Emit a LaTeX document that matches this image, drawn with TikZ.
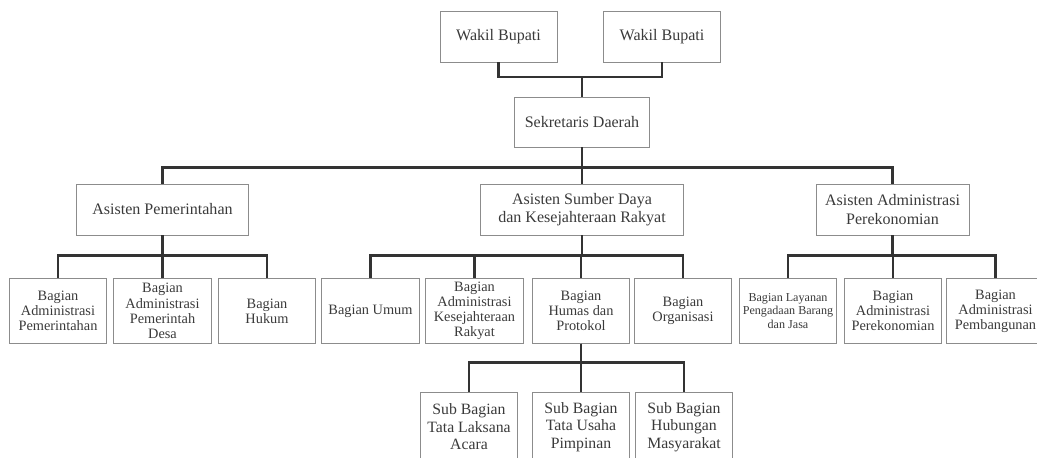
\documentclass[tikz,border=0pt]{standalone}
\usepackage{fontspec}
\setmainfont{Liberation Serif}
\usepackage{xcolor}
\usepackage{tikz}
\definecolor{boxgray}{HTML}{8C8C8C}
\definecolor{linegray}{HTML}{333333}
\definecolor{txtgray}{HTML}{3A3A3A}
\tikzset{
  unit/.style = {draw=boxgray, line width=0.7pt, align=center, inner sep=0pt,
                 text=txtgray, font=\fontsize{11.4}{13}\selectfont},
  top/.style  = {unit, minimum width=2.925cm, minimum height=1.25cm},
  asst/.style = {unit, minimum height=1.275cm},
  part/.style = {unit, minimum width=2.44cm, minimum height=1.6cm,
                 font=\fontsize{10.2}{10.8}\selectfont},
  sub/.style  = {unit, minimum width=2.43cm, minimum height=1.75cm,
                 font=\fontsize{11.2}{12.4}\selectfont},
  conn/.style = {draw=linegray, line width=1.9pt},
}

\begin{document}
\begin{tikzpicture}[x=0.025cm, y=-0.025cm]
    \useasboundingbox (0,0) rectangle (1037,458);

    % pimpinan
    \node (wb1) [top] at (498.5,37) {Wakil Bupati};
    \node (wb2) [top] at (662,37) {Wakil Bupati};
    \node (sek) [unit, minimum width=3.35cm, minimum height=1.225cm] at (582,122.5) {Sekretaris Daerah};

    % asisten
    \node (ap)   [asst, minimum width=4.275cm] at (162.5,209.5) {Asisten Pemerintahan};
    \node (sdkr) [asst, minimum width=5.075cm] at (582,209.5) {Asisten Sumber Daya\\dan Kesejahteraan Rakyat};
    \node (aap)  [asst, minimum width=3.825cm] at (892.5,209.5) {Asisten Administrasi\\Perekonomian};

    % bagian
    \node (b1)    [part] at (58,311)    {Bagian\\Administrasi\\Pemerintahan};
    \node (b2)    [part] at (162.5,311) {Bagian\\Administrasi\\Pemerintah\\Desa};
    \node (b3)    [part] at (267,311)   {Bagian\\Hukum};
    \node (umum)  [part] at (370.5,311) {Bagian Umum};
    \node (akr)   [part] at (474.5,311) {Bagian\\Administrasi\\Kesejahteraan\\Rakyat};
    \node (humas) [part] at (581,311)   {Bagian\\Humas dan\\Protokol};
    \node (org)   [part] at (683,311)   {Bagian\\Organisasi};
    \node (lay)   [part, font=\fontsize{8.6}{9.6}\selectfont] at (788,311) {Bagian Layanan\\Pengadaan Barang\\dan Jasa};
    \node (aper)  [part] at (893,311)   {Bagian\\Administrasi\\Perekonomian};
    \node (apem)  [part] at (995.5,311) {Bagian\\Administrasi\\Pembangunan};

    % sub bagian
    \node (s1) [sub] at (469,427) {Sub Bagian\\Tata Laksana\\Acara};
    \node (s2) [sub] at (581,427) {Sub Bagian\\Tata Usaha\\Pimpinan};
    \node (s3) [sub] at (684,427) {Sub Bagian\\Hubungan\\Masyarakat};

    % garis
    \coordinate (j0) at (sek.north |- 0,77);
    \draw [conn] (wb1.south) |- (j0) -| (wb2.south);
    \draw [conn] (j0) -- (sek.north);

    \foreach \n in {ap,sdkr,aap}
        \draw [conn] (sek.south) -- ++(0,20) -| (\n.north);
    \foreach \n in {b1,b2,b3}
        \draw [conn] (ap.south) -- ++(0,20) -| (\n.north);
    \foreach \n in {umum,akr,humas,org}
        \draw [conn] (sdkr.south) -- ++(0,20) -| (\n.north);
    \foreach \n in {lay,aper,apem}
        \draw [conn] (aap.south) -- ++(0,20) -| (\n.north);
    \foreach \n in {s1,s2,s3}
        \draw [conn] (humas.south) -- ++(0,19) -| (\n.north);

\end{tikzpicture}
\end{document}
